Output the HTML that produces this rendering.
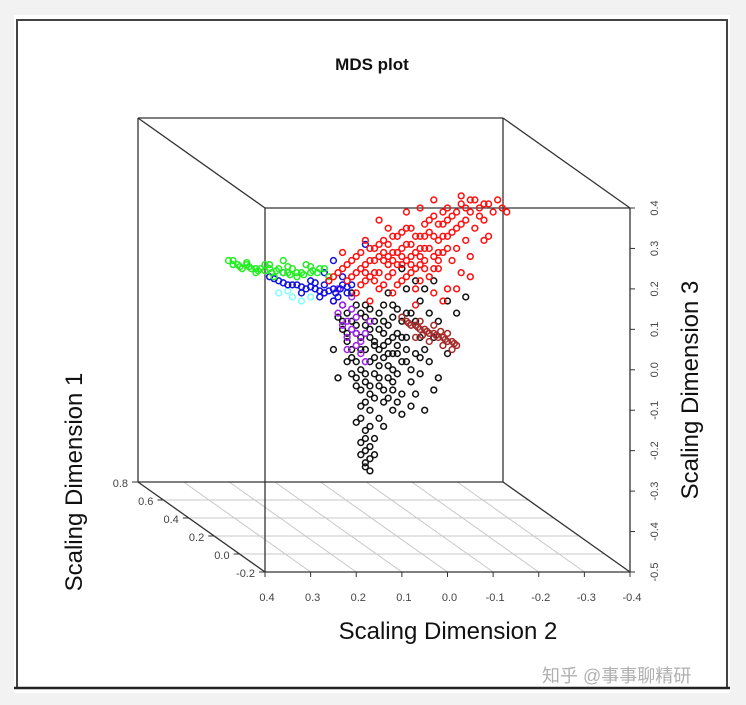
<!DOCTYPE html>
<html><head><meta charset="utf-8"><style>
html,body{margin:0;padding:0;background:#f2f2f2;}
svg{display:block;font-family:"Liberation Sans","Noto Sans CJK SC",sans-serif;}
</style></head><body>
<svg id="chart" width="746" height="705" viewBox="0 0 746 705" xmlns="http://www.w3.org/2000/svg">
<rect x="14" y="15" width="716" height="678" fill="#fff"/>
<path d="M17,688 L17,20 L727,20 L727,688" fill="none" stroke="#444" stroke-width="2"/>
<line x1="14" y1="688" x2="730" y2="688" stroke="#222" stroke-width="2.5"/>
<text x="372" y="70" text-anchor="middle" font-size="17" font-weight="bold" fill="#111">MDS plot</text>
<g id="grid"></g>
<g id="box"></g>
<g id="pts"></g>
<g id="axes"></g>
<text x="448" y="639" text-anchor="middle" font-size="24" fill="#111">Scaling Dimension 2</text>
<text transform="translate(698,390) rotate(-90)" text-anchor="middle" font-size="24" fill="#111">Scaling Dimension 3</text>
<text transform="translate(82,482) rotate(-90)" text-anchor="middle" font-size="24" fill="#111">Scaling Dimension 1</text>
<text x="542" y="682" font-size="18" fill="#b0b0b0">知乎 @事事聊精研</text>
</svg>
<script>
const xTicks = [0.4,0.3,0.2,0.1,0.0,-0.1,-0.2,-0.3,-0.4];
const zTicks = [0.4,0.3,0.2,0.1,0.0,-0.1,-0.2,-0.3,-0.4,-0.5];
const yTicks = [0.8,0.6,0.4,0.2,0.0,-0.2];
const greenPts = [[0.48,.27],[.46,.26],[.44,.26],[.42,.25],[.41,.25],[.39,.25],[.37,.25],[.35,.24],[.32,.24],[.30,.24],[.28,.25],[.26,.23],[.45,.25],[.42,.24],[.38,.23],[.33,.23],[.31,.26],[.36,.27],[.27,.25],[.47,.27],[.40,.26],[.34,.25]];
const greenPts2 = [[.47,.26],[.455,.255],[.435,.255],[.43,.25],[.415,.245],[.40,.245],[.385,.24],[.375,.245],[.36,.24],[.345,.235],[.33,.24],[.315,.235],[.295,.245],[.285,.24],[.44,.265],[.39,.26],[.35,.255],[.30,.255]];
const bluePts = [[.39,.23],[.37,.22],[.35,.21],[.33,.21],[.31,.20],[.29,.20],[.27,.19],[.25,.20],[.24,.18],[.22,.19],[.30,.22],[.26,.22],[.23,.21],[.28,.18],[.25,.17],[.32,.19],[.21,.21],[.25,.27],[.18,.31],[.36,.24],[.27,.24],[.23,.23]];
const bluePts2 = [[.38,.225],[.36,.215],[.34,.21],[.32,.205],[.30,.205],[.28,.195],[.26,.195],[.245,.19],[.235,.20],[.22,.205],[.29,.215],[.27,.21]];
const cyanPts = [[.37,.19],[.34,.18],[.32,.17],[.35,.195],[.30,.18]];
const purplePts = [[.27,.19],[.25,.17],[.24,.14],[.22,.12],[.21,.10],[.22,.08],[.20,.06],[.19,.04],[.18,.02],[.23,.16],[.20,.13],[.18,.09],[.17,.12],[.24,.20],[.21,.18],[.23,.11],[.20,.09],[.19,.07],[.21,.15],[.22,.05]];
const redPts = [[.26,.22],[.24,.24],[.22,.26],[.21,.23],[.20,.28],[.19,.25],[.18,.22],[.17,.27],[.16,.30],[.16,.24],[.15,.20],[.14,.27],[.14,.32],[.13,.23],[.12,.29],[.12,.19],[.11,.26],[.11,.33],[.10,.30],[.10,.22],[.09,.27],[.09,.35],[.08,.31],[.08,.24],[.07,.29],[.07,.20],[.06,.33],[.06,.26],[.05,.36],[.05,.30],[.04,.23],[.04,.34],[.03,.28],[.03,.38],[.02,.32],[.02,.25],[.01,.36],[.01,.29],[.00,.40],[.00,.33],[-.01,.27],[-.01,.38],[-.02,.35],[-.02,.30],[-.03,.41],[-.03,.43],[-.04,.37],[-.04,.32],[-.05,.39],[-.06,.35],[-.06,.42],[-.07,.40],[-.08,.37],[-.09,.41],[-.10,.39],[-.11,.42],[-.12,.40],[-.13,.39],[-.08,.32],[-.05,.28],[-.05,.23],[-.03,.24],[.00,.20],[.01,.17],[.03,.19],[.13,.35],[.18,.32],[.15,.37],[.09,.39],[.06,.40],[.03,.42],[.23,.29],[.20,.19],[.17,.17],[.07,.16],[-.02,.20],[-.09,.33]];
const redPts2 = [[.25,.23],[.23,.25],[.22,.22],[.21,.27],[.20,.24],[.19,.21],[.19,.29],[.18,.26],[.17,.23],[.17,.30],[.16,.27],[.15,.24],[.15,.31],[.14,.21],[.14,.29],[.13,.26],[.13,.31],[.12,.24],[.12,.33],[.11,.21],[.11,.29],[.10,.26],[.10,.34],[.09,.23],[.09,.31],[.08,.28],[.08,.35],[.07,.25],[.07,.33],[.06,.30],[.06,.22],[.05,.27],[.05,.33],[.04,.30],[.04,.37],[.03,.25],[.03,.33],[.02,.29],[.02,.36],[.01,.33],[.01,.39],[.00,.30],[.00,.37],[-.01,.34],[-.02,.39],[-.03,.36],[-.04,.40],[-.05,.42],[-.07,.38],[-.08,.41],[.18,.24],[.16,.22],[.12,.27],[.08,.26],[.05,.25],[.02,.27],[.15,.28],[.10,.28],[.06,.28],[.13,.28]];
const darkRedPts = [[.09,.12],[.08,.11],[.07,.11],[.06,.10],[.05,.10],[.04,.09],[.03,.09],[.02,.08],[.01,.08],[.00,.07],[-.01,.07],[-.02,.06],[.06,.12],[.03,.11],[.00,.09],[.04,.07],[.01,.06],[-.01,.05],[.07,.08],[.10,.13],[.085,.115],[.065,.105],[.045,.095],[.025,.085],[.005,.075],[-.015,.065],[.055,.085],[.015,.095]];
const blackPts = [[.24,.13],[.23,.10],[.22,.07],[.21,.12],[.20,.09],[.19,.05],[.18,.11],[.17,.08],[.16,.03],[.15,.10],[.14,.06],[.13,.01],[.12,.08],[.11,.04],[.10,.12],[.22,.02],[.21,-.01],[.20,-.04],[.19,.00],[.18,-.03],[.17,-.06],[.16,-.01],[.15,-.04],[.14,-.08],[.13,-.02],[.12,-.05],[.11,-.01],[.10,-.06],[.09,.02],[.08,-.03],[.07,.04],[.06,-.01],[.05,-.10],[.06,.08],[.04,.02],[.03,-.05],[.08,-.09],[.10,-.11],[.12,-.10],[.15,-.12],[.17,-.10],[.19,-.09],[.20,-.13],[.18,-.15],[.19,-.18],[.18,-.20],[.17,-.22],[.18,-.24],[.17,-.25],[.16,-.21],[.14,-.14],[.23,.16],[.21,.19],[.18,.16],[.15,.14],[.12,.16],[.09,.20],[.08,.14],[.06,.17],[.05,.20],[.03,.22],[.00,.17],[-.02,.14],[-.04,.18],[.02,.12],[.04,.14],[.07,.22],[.10,.25],[.13,.19],[.25,.05],[.24,-.02],[.11,.15],[.14,.12],[.09,.08],[.16,.06],[.19,.14],[.13,.04],[.00,.04],[.02,-.02],[.07,-.06]];
const blackPts2 = [[.23,.12],[.22,.09],[.21,.05],[.20,.11],[.20,.02],[.19,.08],[.18,.05],[.18,.13],[.17,.02],[.17,.10],[.16,.07],[.16,.12],[.15,.05],[.15,.01],[.14,.09],[.14,.03],[.13,.07],[.13,.11],[.12,.04],[.12,.00],[.11,.09],[.11,.06],[.10,.02],[.10,.08],[.09,.05],[.21,.03],[.20,-.02],[.19,-.05],[.18,-.01],[.17,-.04],[.16,-.07],[.15,-.02],[.14,-.05],[.13,-.07],[.12,-.03],[.11,-.08],[.18,-.08],[.19,-.12],[.17,-.14],[.18,-.17],[.19,-.21],[.17,-.19],[.18,-.23],[.16,-.17],[.22,.14],[.20,.16],[.17,.15],[.14,.16],[.12,.13],[.09,.14],[.07,.12],[.05,.05],[.03,.08],[.08,.00],[.06,.03]];

const NS='http://www.w3.org/2000/svg';
const X0=265,X1=630,Z0=208,Z1=572,DX=-127,DY=-90;
function sx(v){return X0+(0.4-v)/0.8*(X1-X0);}
function sz(v){return Z0+(0.4-v)/0.9*(Z1-Z0);}
function dt(v){return (v+0.2)/1.0;}
function mk(tag,attrs,parent){const e=document.createElementNS(NS,tag);for(const k in attrs)e.setAttribute(k,attrs[k]);parent.appendChild(e);return e;}
const grid=document.getElementById('grid'),box=document.getElementById('box'),pts=document.getElementById('pts'),axes=document.getElementById('axes');
yTicks.forEach(v=>{const t=dt(v);if(t<=0||t>=1)return;
 const l=mk('line',{x1:X0+DX*t,y1:Z1+DY*t,x2:X1+DX*t,y2:Z1+DY*t,stroke:'#c8c8c8','stroke-width':1},grid);
 
 });
xTicks.forEach(v=>{const x=sx(v);
 const l=mk('line',{x1:x,y1:Z1,x2:x+DX,y2:Z1+DY,stroke:'#c8c8c8','stroke-width':1},grid);
 
 });
const edges=[[X0,Z0,X1,Z0],[X0,Z1,X1,Z1],[X0,Z0,X0,Z1],[X1,Z0,X1,Z1],
 [X0+DX,Z0+DY,X1+DX,Z0+DY],[X0+DX,Z1+DY,X1+DX,Z1+DY],[X0+DX,Z0+DY,X0+DX,Z1+DY],[X1+DX,Z0+DY,X1+DX,Z1+DY],
 [X0,Z0,X0+DX,Z0+DY],[X1,Z0,X1+DX,Z0+DY],[X0,Z1,X0+DX,Z1+DY],[X1,Z1,X1+DX,Z1+DY]];
edges.forEach(e=>{const l=mk('line',{x1:e[0],y1:e[1],x2:e[2],y2:e[3],stroke:'#333','stroke-width':1.3},box);
 
 });
xTicks.forEach(v=>{const x=sx(v);
 mk('line',{x1:x,y1:Z1,x2:x,y2:Z1+5,stroke:'#333'},axes);
 const t=mk('text',{x:x+2,y:Z1+29,'text-anchor':'middle','font-size':11,fill:'#444'},axes);t.textContent=v.toFixed(1);
 
 });
zTicks.forEach(v=>{const y=sz(v);
 mk('line',{x1:X1,y1:y,x2:X1+5,y2:y,stroke:'#333'},axes);
 const t=mk('text',{transform:`translate(${X1+28},${y}) rotate(-90)`,'text-anchor':'middle','font-size':11,fill:'#444'},axes);t.textContent=v.toFixed(1);
 
 });
yTicks.forEach(v=>{const t0=dt(v);const x=X0+DX*t0,y=Z1+DY*t0;
 mk('line',{x1:x,y1:y,x2:x-6,y2:y,stroke:'#333'},axes);
 const t=mk('text',{x:x-10,y:y+5,'text-anchor':'end','font-size':11,fill:'#444'},axes);t.textContent=v.toFixed(1);
 
 });
function series(arr,color,name){const g=mk('g',{},pts);
 
 
 arr.forEach(p=>{const c=mk('circle',{cx:sx(p[0]),cy:sz(p[1]),r:2.9,fill:'none',stroke:color,'stroke-width':1.5},g);
  
  });}
series(blackPts,'#111','series-black');
series(blackPts2,'#111','series-black-extra');
series(darkRedPts,'#a52a2a','series-darkred');
series(purplePts,'#a020f0','series-purple');
series(cyanPts,'#7fffff','series-cyan');
series(bluePts,'#1010e0','series-blue');
series(bluePts2,'#1010e0','series-blue-extra');
series(greenPts,'#22ee22','series-green');
series(greenPts2,'#22ee22','series-green-extra');
series(redPts,'#ff1010','series-red');
series(redPts2,'#ff1010','series-red-extra');
</script>
</body></html>
